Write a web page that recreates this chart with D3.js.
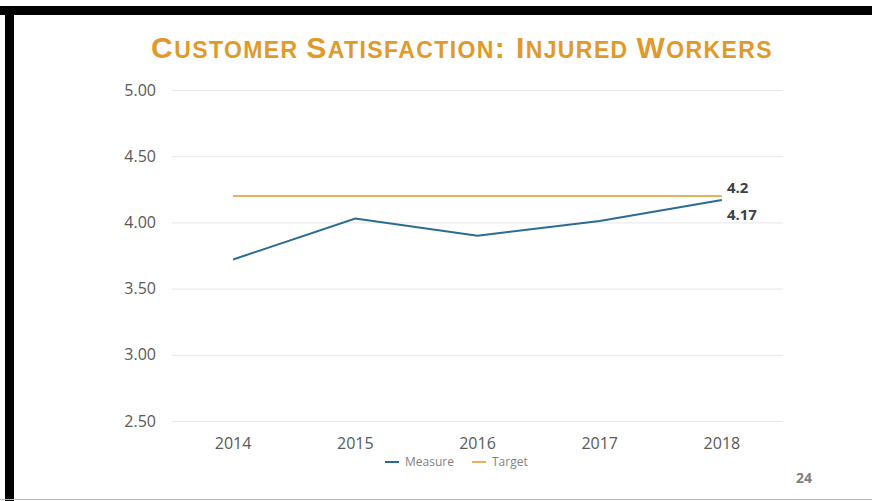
<!DOCTYPE html>
<html>
<head>
<meta charset="utf-8">
<script src="https://cdn.jsdelivr.net/npm/d3@7"></script>
<style>
    body { margin: 0; background: #fff; }
    svg { display: block; font-family: "Open Sans", "Noto Sans", sans-serif; }
</style>
</head>
<body>
<div id="chart"></div>
<script>
// chart data
var years = ['2014', '2015', '2016', '2017', '2018'];
var measure = [3.72, 4.03, 3.90, 4.01, 4.17];
var target = [4.2, 4.2, 4.2, 4.2, 4.2];
var yTicks = [2.5, 3.0, 3.5, 4.0, 4.5, 5.0];

var svgWidth = 872;
var svgHeight = 501;
var margin = { top: 90, right: 89, bottom: 80, left: 172 };
var width = svgWidth - margin.left - margin.right;
var height = 421 - margin.top;

var svg = d3.select("#chart")
    .append("svg")
    .attr("width", svgWidth)
    .attr("height", svgHeight);

// slide frame
svg.append("rect").attr("x", 0).attr("y", 0).attr("width", svgWidth).attr("height", svgHeight).attr("fill", "#fff");
svg.append("rect").attr("x", 0).attr("y", 6).attr("width", svgWidth).attr("height", 9).attr("fill", "#000");
svg.append("rect").attr("x", 5).attr("y", 6).attr("width", 9).attr("height", svgHeight).attr("fill", "#000");
svg.append("line").attr("x1", 0).attr("x2", svgWidth).attr("y1", 499.5).attr("y2", 499.5)
    .attr("stroke", "#bbb").attr("stroke-width", 1);

// title with small caps
var title = svg.append("text")
    .attr("x", 462)
    .attr("y", 58)
    .attr("text-anchor", "middle")
    .attr("fill", "#E09A2B")
    .attr("font-family", "Liberation Sans, Arial, sans-serif")
    .attr("font-weight", "bold")
    .attr("letter-spacing", 1.4);
[["C", 30], ["USTOMER ", 23], ["S", 30], ["ATISFACTION", 23], [": ", 30], ["I", 30], ["NJURED ", 23], ["W", 30], ["ORKERS", 23]]
    .forEach(([t, s]) => {
        title.append("tspan").attr("font-size", s).text(t);
    });

var chartGroup = svg.append("g")
    .attr("transform", `translate(${margin.left}, ${margin.top})`);

var xScale = d3.scaleBand()
    .domain(years)
    .range([0, width]);

var yScale = d3.scaleLinear()
    .domain([2.5, 5.0])
    .range([height, 0]);

// gridlines + y labels
var leftAxis = d3.axisLeft(yScale)
    .tickValues(yTicks)
    .tickSize(-width)
    .tickPadding(16)
    .tickFormat(d3.format(".2f"));
var yAxisG = chartGroup.append("g").call(leftAxis);
yAxisG.select(".domain").remove();
yAxisG.selectAll("line").attr("stroke", "#e6e6e6").attr("stroke-width", 1);
yAxisG.selectAll("text").attr("fill", "#595959").attr("font-size", 16)
    .attr("font-family", "Open Sans, sans-serif");

// x labels
var bottomAxis = d3.axisBottom(xScale).tickSize(0).tickPadding(17);
var xAxisG = chartGroup.append("g")
    .attr("transform", `translate(0, ${height})`)
    .call(bottomAxis);
xAxisG.select(".domain").remove();
xAxisG.selectAll("text").attr("fill", "#595959").attr("font-size", 16)
    .attr("font-family", "Open Sans, sans-serif");

var line = d3.line()
    .x((d, i) => xScale(years[i]) + xScale.bandwidth() / 2)
    .y(d => yScale(d));

chartGroup.append("path")
    .datum(target)
    .attr("d", line)
    .attr("fill", "none")
    .attr("stroke", "#E6B35A")
    .attr("stroke-width", 2);

chartGroup.append("path")
    .datum(measure)
    .attr("d", line)
    .attr("fill", "none")
    .attr("stroke", "#2C6B93")
    .attr("stroke-width", 2);

// end labels
var lastX = xScale(years[4]) + xScale.bandwidth() / 2;
chartGroup.append("text")
    .attr("x", lastX + 5)
    .attr("y", yScale(target[4]) - 3)
    .attr("fill", "#404040")
    .attr("font-size", 15)
    .attr("font-weight", "bold")
    .text(target[4]);
chartGroup.append("text")
    .attr("x", lastX + 5)
    .attr("y", yScale(measure[4]) + 20)
    .attr("fill", "#404040")
    .attr("font-size", 15)
    .attr("font-weight", "bold")
    .text(measure[4]);

// legend
var legend = svg.append("g").attr("transform", "translate(385, 466)");
[["Measure", "#2C6B93", 0], ["Target", "#E6B35A", 87]].forEach(([name, c, off]) => {
    legend.append("line")
        .attr("x1", off).attr("x2", off + 14)
        .attr("y1", -4).attr("y2", -4)
        .attr("stroke", c).attr("stroke-width", 2);
    legend.append("text")
        .attr("x", off + 20)
        .attr("y", 0)
        .attr("fill", "#7f7f7f")
        .attr("font-size", 12)
        .text(name);
});

// page number
svg.append("text")
    .attr("x", 796)
    .attr("y", 483)
    .attr("fill", "#7f7f7f")
    .attr("font-size", 14)
    .attr("font-weight", "bold")
    .text("24");
</script>
</body>
</html>
